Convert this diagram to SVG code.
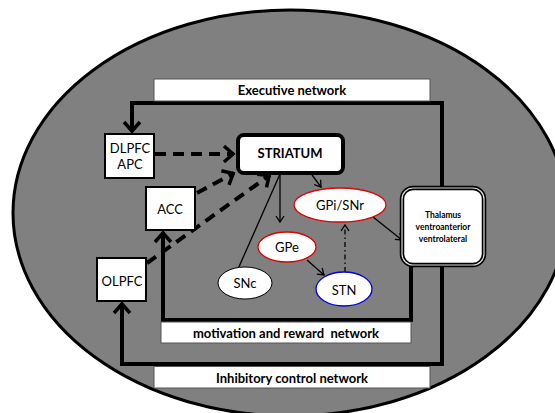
<svg xmlns="http://www.w3.org/2000/svg" width="555" height="413" viewBox="0 0 555 413">
<style>
.box{fill:#fff;stroke:#000;stroke-width:2}
.lab{fill:#fff;stroke:#555;stroke-width:1}
.t{font-family:Lato,"Liberation Sans",sans-serif;font-size:13px;fill:#000;text-anchor:middle;dominant-baseline:central}
.b{font-weight:bold}
.th{font-size:8.5px}
.thick{fill:none;stroke:#000;stroke-width:4;stroke-linejoin:miter}
.dash{fill:none;stroke:#000;stroke-width:4;stroke-dasharray:11 7}
.thin{fill:none;stroke:#000;stroke-width:1.3}
</style>
<defs>
<marker id="ch" viewBox="-14 -11 16 22" refX="0" refY="0" markerWidth="16" markerHeight="22" orient="auto" markerUnits="userSpaceOnUse">
<path d="M-10,-8 L-1,0 L-10,8" fill="none" stroke="#000" stroke-width="3.5"/>
</marker>
<marker id="ar" viewBox="-8 -6 10 12" refX="0" refY="0" markerWidth="10" markerHeight="12" orient="auto" markerUnits="userSpaceOnUse">
<path d="M-6,-4 L0,0 L-6,4" fill="none" stroke="#000" stroke-width="1.3"/>
</marker>
</defs>
<rect x="0" y="0" width="555" height="413" fill="#fff"/>
<ellipse cx="290" cy="213" rx="277" ry="203" fill="#808080" stroke="#000" stroke-width="3"/>

<g id="connectors">
<path class="thick" d="M442,188 L442,103 L132,103 L132,132" marker-end="url(#ch)"/>
<path class="thick" d="M411,265 L411,320 L163,320 L163,232" marker-end="url(#ch)"/>
<path class="thick" d="M442,265 L442,364 L122,364 L122,303" marker-end="url(#ch)"/>
<path class="dash" d="M155,154 L234,154" marker-end="url(#ch)"/>
<path class="dash" d="M197,193 L234,173" marker-end="url(#ch)"/>
<path class="dash" d="M147,263 L270,175" marker-end="url(#ch)"/>
<path class="thin" d="M312,175 L321,187" marker-end="url(#ar)"/>
<path class="thin" d="M280,174 L280,222" marker-end="url(#ar)"/>
<path class="thin" d="M238,269 L280,174"/>
<path class="thin" d="M307,260 L324,275" marker-end="url(#ar)"/>
<path class="thin" d="M345,272 L345,225" stroke-dasharray="5 3 1.5 3" marker-end="url(#ar)"/>
<path class="thin" d="M373,217 L402,240" marker-end="url(#ar)"/>
</g>

<g id="executive">
<rect class="lab" x="154" y="79" width="276" height="22"/>
<text class="t b" x="292" y="90">Executive network</text>
</g>
<g id="motivation">
<rect class="lab" x="161" y="322" width="250" height="21"/>
<text class="t b" x="286" y="333" xml:space="preserve">motivation and reward  network</text>
</g>
<g id="inhibitory">
<rect class="lab" x="154" y="366.5" width="276" height="21.5"/>
<text class="t b" x="292" y="378">Inhibitory control network</text>
</g>

<g id="dlpfc">
<rect class="box" x="105" y="134" width="49" height="44"/>
<text class="t" x="130" y="148">DLPFC</text>
<text class="t" x="130" y="164">APC</text>
</g>
<g id="acc">
<rect class="box" x="146" y="187" width="49" height="43"/>
<text class="t" x="170" y="209">ACC</text>
</g>
<g id="olpfc">
<rect class="box" x="97" y="258" width="49" height="43"/>
<text class="t" x="122" y="281">OLPFC</text>
</g>
<g id="striatum">
<rect x="238" y="135" width="105" height="38" rx="6" fill="#fff" stroke="#000" stroke-width="4"/>
<text class="t b" x="290" y="153">STRIATUM</text>
</g>
<g id="gpi">
<ellipse cx="340" cy="205" rx="46" ry="17" fill="#fff" stroke="#e00000" stroke-width="1.3"/>
<text class="t" x="340" y="205">GPi/SNr</text>
</g>
<g id="gpe">
<ellipse cx="287" cy="247" rx="29" ry="15" fill="#fff" stroke="#e00000" stroke-width="1.3"/>
<text class="t" x="287" y="247">GPe</text>
</g>
<g id="snc">
<ellipse cx="245" cy="283" rx="27" ry="16" fill="#fff" stroke="#000" stroke-width="1"/>
<text class="t" x="245" y="283">SNc</text>
</g>
<g id="stn">
<ellipse cx="344" cy="289" rx="28" ry="17" fill="#fff" stroke="#0000e0" stroke-width="1.3"/>
<text class="t" x="344" y="290">STN</text>
</g>
<g id="thalamus">
<rect x="402" y="188" width="82" height="77" rx="11" fill="#fff" stroke="#000" stroke-width="4.5"/>
<rect x="402" y="188" width="82" height="77" rx="11" fill="none" stroke="#ddd" stroke-width="1.2"/>
<text class="t b th" x="443" y="215">Thalamus</text>
<text class="t b th" x="443" y="227">ventroanterior</text>
<text class="t b th" x="443" y="239">ventrolateral</text>
</g>
</svg>
